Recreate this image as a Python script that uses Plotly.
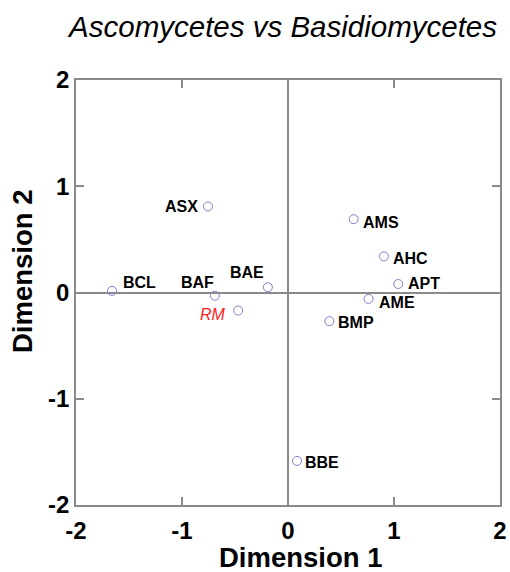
import plotly.graph_objects as go

labels = ["ASX", "BCL", "BAF", "BAE", "AMS", "AHC", "APT", "AME", "BMP", "BBE"]
dim1 = [-0.755, -1.66, -0.69, -0.19, 0.62, 0.905, 1.04, 0.76, 0.39, 0.085]
dim2 = [0.81, 0.015, -0.03, 0.05, 0.69, 0.34, 0.08, -0.06, -0.27, -1.585]

ref_label = ["RM"]
ref_dim1 = [-0.47]
ref_dim2 = [-0.17]

tickvals = [-2, -1, 0, 1, 2]

# label placement styles: (anchor, xshift, yshift)
label_style = [("right", -9, 0), ("left", 10, 8), ("right", 0, 13), ("right", -3, 15),
               ("left", 8, -3), ("left", 8, -2), ("left", 9, 1), ("left", 9, -4),
               ("left", 8, -1), ("left", 7, -2)]
ref_style = ("right", -11, -4)

font = "Liberation Sans, Arial, sans-serif"
gray = "#8a8a8a"
marker_color = "#8080c8"

fig = go.Figure()
fig.add_trace(go.Scatter(
    x=dim1 + ref_dim1, y=dim2 + ref_dim2, mode="markers",
    marker=dict(symbol="circle-open", size=9, color=marker_color, line=dict(width=1)),
    showlegend=False, cliponaxis=False, hoverinfo="skip",
))

for lab, xv, yv, (anc, xs, ys) in zip(labels, dim1, dim2, label_style):
    fig.add_annotation(x=xv, y=yv, text="<b>" + lab + "</b>", showarrow=False,
                       xanchor=anc, yanchor="middle", xshift=xs, yshift=ys,
                       borderpad=0,
                       font=dict(family=font, size=16, color="black"))
for lab, xv, yv in zip(ref_label, ref_dim1, ref_dim2):
    anc, xs, ys = ref_style
    fig.add_annotation(x=xv, y=yv, text="<i>" + lab + "</i>", showarrow=False,
                       xanchor=anc, yanchor="middle", xshift=xs, yshift=ys,
                       borderpad=0,
                       font=dict(family=font, size=16, color="#ff2020"))

# axis titles
fig.add_annotation(xref="paper", yref="paper", x=0.531, y=-0.1247,
                   text="<b>Dimension 1</b>", showarrow=False,
                   xanchor="center", yanchor="middle",
                   font=dict(family=font, size=27.5, color="black"))
fig.add_annotation(xref="paper", yref="paper", x=-0.125, y=0.5506,
                   text="<b>Dimension 2</b>", showarrow=False, textangle=-90,
                   xanchor="center", yanchor="middle",
                   font=dict(family=font, size=27.5, color="black"))

axis_common = dict(
    range=[-2, 2], tickvals=tickvals, ticktext=[str(v) for v in tickvals],
    showline=True, mirror="ticks", linecolor=gray, linewidth=1.5,
    ticks="inside", ticklen=8, tickcolor=gray, tickwidth=1.5,
    showgrid=False, zeroline=True, zerolinecolor=gray, zerolinewidth=1.5,
    automargin=False, fixedrange=True,
    tickfont=dict(family=font, size=24, color="black", weight="bold"),
)

fig.update_layout(
    width=510, height=572,
    margin=dict(l=76, r=10, t=80, b=67),
    paper_bgcolor="white", plot_bgcolor="white",
    title=dict(text="<i>Ascomycetes vs Basidiomycetes</i>", x=0.555, xanchor="center",
               y=0.953, yanchor="middle",
               font=dict(family=font, size=29.5, color="black")),
    xaxis=dict(axis_common, ticklabelstandoff=3),
    yaxis=dict(axis_common),
)

fig.write_html("out.html", config={"displayModeBar": False},
               post_script="document.body.style.margin='0';document.body.style.overflow='hidden';")
